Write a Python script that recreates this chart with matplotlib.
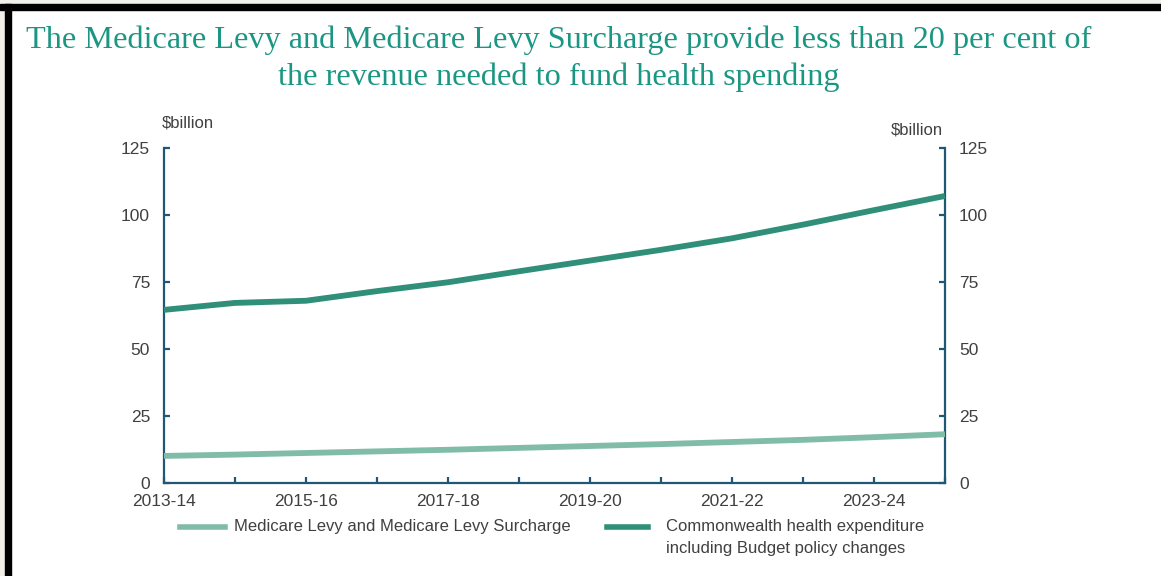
import matplotlib.pyplot as plt
from matplotlib.lines import Line2D
from matplotlib.patches import Rectangle

# Financial years shown on the x axis
years = ['2013-14', '2014-15', '2015-16', '2016-17', '2017-18', '2018-19',
         '2019-20', '2020-21', '2021-22', '2022-23', '2023-24', '2024-25']
levy = [10.1, 10.6, 11.2, 11.8, 12.4, 13.1, 13.8, 14.5, 15.3, 16.1, 17.1, 18.2]
health = [64.6, 67.2, 68.0, 71.6, 74.9, 79.0, 83.0, 87.0, 91.3, 96.4, 101.8, 107.1]
yticks = [0, 25, 50, 75, 100, 125]

title_col = '#1a9683'
dark_col = '#2f8f78'
light_col = '#80bca8'
axis_col = '#1f5775'
text_col = '#404040'
sans = 'Liberation Sans'

fig = plt.figure(figsize=(11.61, 5.76), dpi=100)
fig.patch.set_facecolor('white')

# page frame: grey margin, black top/left rules
W, H = 1161, 576
fig.add_artist(Rectangle((0, 1 - 4 / H), 1, 4 / H, transform=fig.transFigure, color='#f1f0eb', zorder=0))
fig.add_artist(Rectangle((0, 0), 5 / W, 1, transform=fig.transFigure, color='#f1f0eb', zorder=0))
fig.add_artist(Rectangle((0, 1 - 10 / H), 1, 6 / H, transform=fig.transFigure, color='black', zorder=1))
fig.add_artist(Rectangle((5 / W, 0), 6 / W, 1 - 4 / H, transform=fig.transFigure, color='black', zorder=1))

ax = fig.add_axes([164 / W, 93 / H, 781 / W, 335 / H])
x = list(range(len(years)))
ax.plot(x, levy, color=light_col, lw=4.2, solid_capstyle='butt', zorder=3)
ax.plot(x, health, color=dark_col, lw=4.2, solid_capstyle='butt', zorder=3)

ax.set_xlim(0, len(years) - 1)
ax.set_ylim(0, 125)
ax.set_xticks(x)
ax.set_xticklabels([y if i % 2 == 0 else '' for i, y in enumerate(years)])
ax.set_yticks(yticks)
ax.spines['top'].set_visible(False)
for s in ['left', 'right', 'bottom']:
    ax.spines[s].set_color(axis_col)
    ax.spines[s].set_linewidth(1.6)
ax.tick_params(axis='both', direction='in', color=axis_col, width=1.6, length=4,
               labelcolor=text_col, labelsize=12.5)
ax.tick_params(axis='y', left=True, right=True, labelleft=True, labelright=True, pad=10)
ax.tick_params(axis='x', pad=8)
for lab in ax.get_xticklabels() + ax.get_yticklabels():
    lab.set_fontfamily(sans)

fig.text(162 / W, 1 - 123 / H, '$billion', ha='left', va='center', color=text_col,
         fontsize=12, family=sans)
fig.text(943 / W, 1 - 130 / H, '$billion', ha='right', va='center', color=text_col,
         fontsize=12, family=sans)

fig.text(559 / W, 1 - 40 / H, 'The Medicare Levy and Medicare Levy Surcharge provide less than 20 per cent of',
         ha='center', va='center', color=title_col, fontsize=23.2, family='Liberation Serif')
fig.text(559 / W, 1 - 77 / H, 'the revenue needed to fund health spending',
         ha='center', va='center', color=title_col, fontsize=23.2, family='Liberation Serif')

# legend drawn underneath the plot
fig.add_artist(Line2D([180 / W, 225 / W], [1 - 527 / H] * 2, color=light_col, lw=4))
fig.text(234 / W, 1 - 526 / H, 'Medicare Levy and Medicare Levy Surcharge', ha='left', va='center',
         color=text_col, fontsize=12, family=sans)
fig.add_artist(Line2D([607 / W, 648 / W], [1 - 527 / H] * 2, color=dark_col, lw=4))
fig.text(666 / W, 1 - 526 / H, 'Commonwealth health expenditure', ha='left', va='center',
         color=text_col, fontsize=12, family=sans)
fig.text(666 / W, 1 - 548 / H, 'including Budget policy changes', ha='left', va='center',
         color=text_col, fontsize=12, family=sans)

plt.savefig('out.png', dpi=100)
